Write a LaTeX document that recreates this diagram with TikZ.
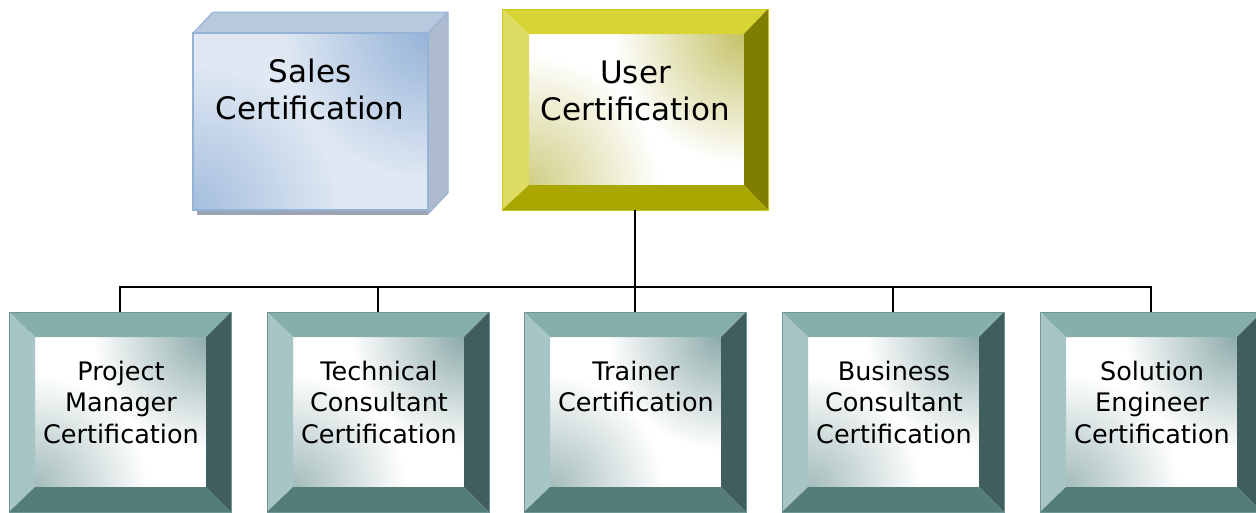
\documentclass[tikz,border=0pt]{standalone}
\usepackage{fontspec}
\setmainfont{DejaVu Sans}
\usetikzlibrary{calc}
\definecolor{tealT}{HTML}{86AEAD}
\definecolor{tealL}{HTML}{A6C5C4}
\definecolor{tealR}{HTML}{3F5E5D}
\definecolor{tealB}{HTML}{537C7B}
\definecolor{tealO}{HTML}{6E9695}
\definecolor{tealS}{HTML}{8DABAA}
\definecolor{yelT}{HTML}{D8D434}
\definecolor{yelL}{HTML}{DEDC62}
\definecolor{yelR}{HTML}{7F7E00}
\definecolor{yelB}{HTML}{AAA800}
\definecolor{yelO}{HTML}{C8C620}
\definecolor{yelS}{HTML}{C4C266}
\definecolor{bluF}{HTML}{DFE8F3}
\definecolor{bluS}{HTML}{95B3D7}
\definecolor{bluE}{HTML}{95B3D7}
\definecolor{bluTop}{HTML}{B8C8DD}
\definecolor{bluSide}{HTML}{AEBBCF}
\definecolor{bluShadow}{HTML}{9AA4B2}
% corner-tinted fill: #1 inner node, #2 tint colour, #3 base colour, #4 radius
\newcommand\cornertint[4]{%
  \begin{scope}
    \clip (#1.north west) rectangle (#1.south east);
    \fill[#3] (#1.north west) rectangle (#1.south east);
    \shade[inner color=#2, outer color=#3] (#1.north east) circle[radius=#4];
    \shade[inner color=#2!80!#3, outer color=#3] (#1.south west) circle[radius=#4];
  \end{scope}
}
\newcommand\bevel[3]{%
  \fill[#1T] (#2.north west) -- (#2.north east) -- (#3.north east) -- (#3.north west) -- cycle;
  \fill[#1L] (#2.north west) -- (#3.north west) -- (#3.south west) -- (#2.south west) -- cycle;
  \fill[#1R] (#2.north east) -- (#2.south east) -- (#3.south east) -- (#3.north east) -- cycle;
  \fill[#1B] (#2.south west) -- (#2.south east) -- (#3.south east) -- (#3.south west) -- cycle;
  \draw[#1O, line width=1pt] (#2.north west) rectangle (#2.south east);
}
\tikzset{
  helper/.style={rectangle, inner sep=0pt, outer sep=0pt, draw=none},
  bigtext/.style={anchor=north, inner sep=0pt, align=center, font=\fontsize{31}{37}\selectfont},
  smalltext/.style={anchor=north, inner sep=0pt, align=center, font=\fontsize{25.5}{31.5}\selectfont},
  conn/.style={line width=2pt, black}
}
\begin{document}
\begin{tikzpicture}[x=1pt, y=-1pt]
\useasboundingbox (0,0) rectangle (1256,512);
% Sales certification (3D box)
\fill[bluTop] (193,33) -- (213,12) -- (448,12) -- (428,33) -- cycle;
\fill[bluSide] (428,33) -- (448,12) -- (448,193) -- (428,214) -- cycle;
\fill[bluShadow] (197,210) rectangle (428,215);
\node[helper, minimum width=235pt, minimum height=177pt] (sales) at (310.5,121.5) {};
\cornertint{sales}{bluS}{bluF}{146}
\draw[bluE, line width=2.5pt] (sales.north west) rectangle (sales.south east);
\draw[bluE, line width=1pt] (193,33) -- (213,12) -- (448,12) -- (448,193) -- (428,214);
\draw[bluE, line width=1pt] (sales.north east) -- (448,12);
\node[bigtext] (salest) at (310,57) {\rule{0pt}{25pt}Sales\\Certification};
% User certification
\node[helper, minimum width=266pt, minimum height=201pt] (user) at (635,109.5) {};
\node[helper, minimum width=215pt, minimum height=151pt] (useri) at (636.5,109.5) {};
\cornertint{useri}{yelS}{white}{131}
\bevel{yel}{user}{useri}
\node[bigtext] (usert) at (635.5,58) {\rule{0pt}{25pt}User\\Certification};
% bottom boxes
\foreach \nm/\cx/\txt in {pm/120/{Project\\Manager\\Certification},
                          tc/378/{Technical\\Consultant\\Certification},
                          tr/635/{Trainer\\Certification},
                          bc/893/{Business\\Consultant\\Certification},
                          se/1151/{Solution\\Engineer\\Certification}}{
  \node[helper, minimum width=222pt, minimum height=200pt] (\nm) at (\cx,412) {};
  \node[helper, minimum width=171pt, minimum height=150pt] (\nm i) at (\cx+0.5,412) {};
  \cornertint{\nm i}{tealS}{white}{113}
  \bevel{teal}{\nm}{\nm i}
  \node[smalltext] (\nm t) at (\cx+1,360) {\rule{0pt}{20pt}\txt};
}
% connectors
\coordinate (hub) at ($(user.south)+(0,77)$);
\draw[conn] (user.south) -- (hub);
\draw[conn] (pm.north) |- (hub) -| (se.north);
\draw[conn] (tc.north) -- (tc.north |- hub);
\draw[conn] (tr.north) -- (hub);
\draw[conn] (bc.north) -- (bc.north |- hub);
\end{tikzpicture}
\end{document}
